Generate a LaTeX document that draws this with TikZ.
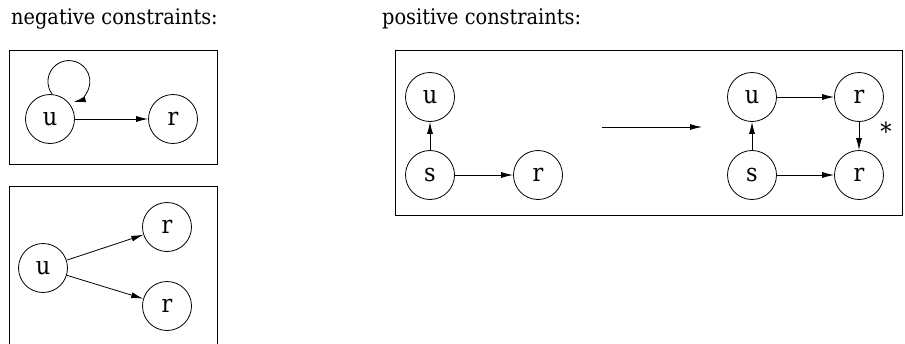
\documentclass[tikz,border=0pt]{standalone}
\usepackage{fontspec}
\setmainfont{DejaVu Serif Condensed}
\usetikzlibrary{arrows.meta}
\begin{document}
\begin{tikzpicture}[x=1pt,y=-1pt,
  vtx/.style={draw,circle,minimum size=49pt,inner sep=0pt,line width=0.8pt,font=\fontsize{25}{27}\selectfont},
  frame/.style={draw,line width=0.9pt},
  head/.style={anchor=base west,inner sep=0pt,font=\fontsize{21.5}{24}\selectfont},
  arr/.style={line width=0.8pt,-{Latex[length=12pt,width=6pt]}}]
\clip (0,0) rectangle (905,343);
\fill[white] (0,0) rectangle (905,343);
% headings
\node[head] (h1) at (11,24) {negative constraints:};
\node[head] (h2) at (382,24) {positive constraints:};
% frames
\draw[frame] (9.5,50) rectangle (217.5,164);
\draw[frame] (9.5,186) rectangle (217.5,360);
\draw[frame] (395,50) rectangle (902,215);
% negative 1
\node[vtx] (u1) at (50,119) {u};
\node[vtx] (r1) at (173,119) {r};
\draw[arr] (u1) -- (r1);
\draw[arr] (u1.85) arc[start angle=143, end angle=437, radius=21];
% negative 2
\node[vtx] (u2) at (43,268) {u};
\node[vtx] (r2) at (167,227) {r};
\node[vtx] (r3) at (167,306) {r};
\draw[arr] (u2) -- (r2);
\draw[arr] (u2) -- (r3);
% positive left
\node[vtx] (pu) at (430,97) {u};
\node[vtx] (ps) at (430,175) {s};
\node[vtx] (pr) at (538,175) {r};
\draw[arr] (ps) -- (pu);
\draw[arr] (ps) -- (pr);
% big arrow
\coordinate (a1) at (602,127);
\coordinate (a2) at (702,127);
\draw[arr] (a1) -- (a2);
% positive right
\node[vtx] (qu) at (752,97) {u};
\node[vtx] (qr) at (859,97) {r};
\node[vtx] (qs) at (752,175) {s};
\node[vtx] (qr2) at (859,175) {r};
\draw[arr] (qs) -- (qu);
\draw[arr] (qu) -- (qr);
\draw[arr] (qr) -- (qr2);
\draw[arr] (qs) -- (qr2);
\node[font=\fontsize{25}{27}\selectfont,inner sep=0pt] (star) at (886,131) {*};
\end{tikzpicture}
\end{document}
